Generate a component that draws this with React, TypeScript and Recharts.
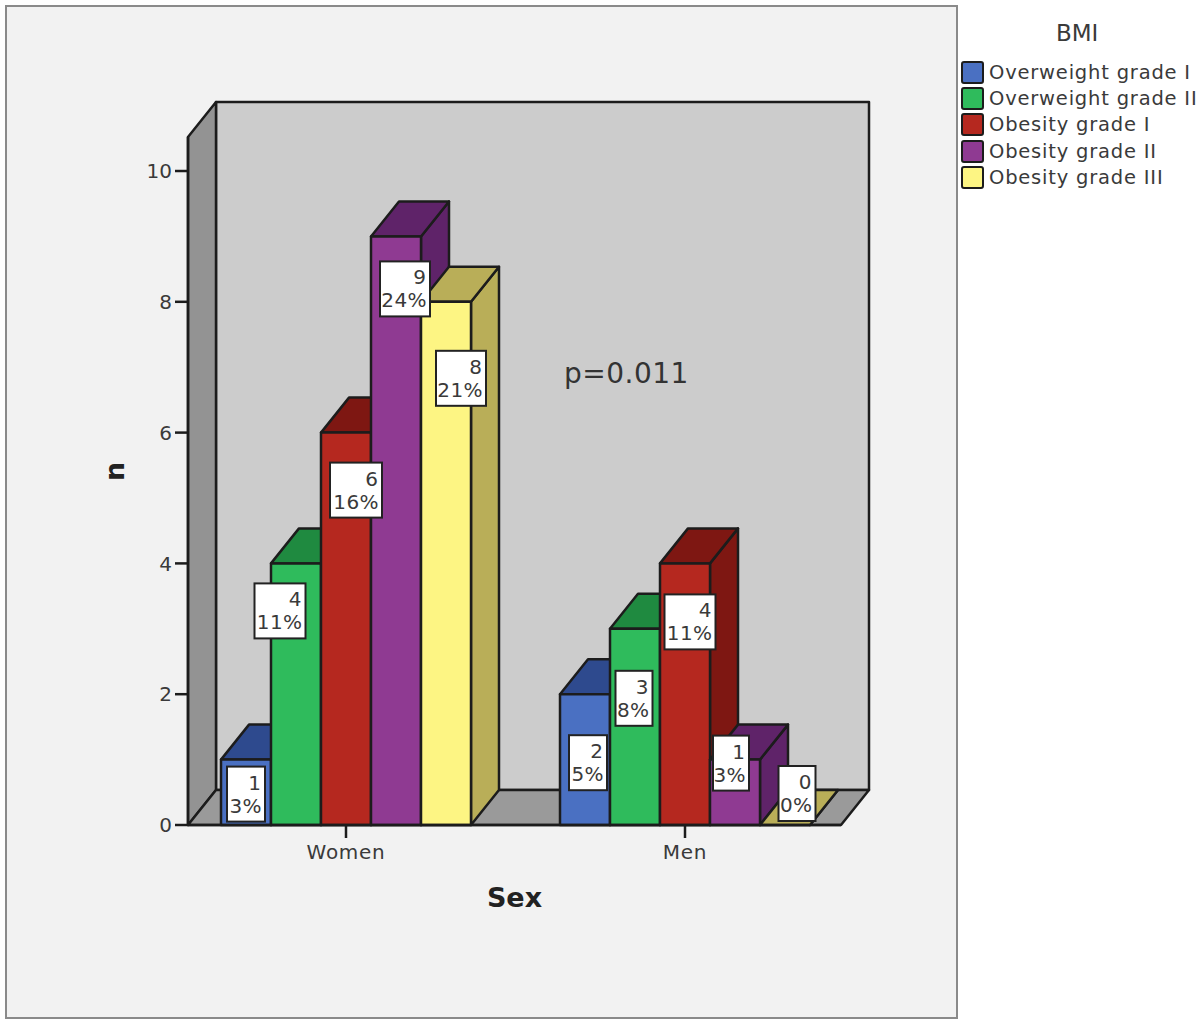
import React from "react";
import {
  BarChart,
  Bar,
  XAxis,
  YAxis,
  Legend,
  ReferenceDot,
  usePlotArea,
} from "recharts";

const sexes = ["Women", "Men"];
const bmiGroups = [
  "Overweight grade I",
  "Overweight grade II",
  "Obesity grade I",
  "Obesity grade II",
  "Obesity grade III",
];
const overweight1 = [1, 2];
const overweight2 = [4, 3];
const obesity1 = [6, 4];
const obesity2 = [9, 1];
const obesity3 = [8, 0];
const percent1 = ["3%", "5%"];
const percent2 = ["11%", "8%"];
const percent3 = ["16%", "11%"];
const percent4 = ["24%", "3%"];
const percent5 = ["21%", "0%"];
const yTicks = [0, 2, 4, 6, 8, 10];

const seriesValues = [overweight1, overweight2, obesity1, obesity2, obesity3];
const seriesPercents = [percent1, percent2, percent3, percent4, percent5];
const seriesKeys = ["g1", "g2", "g3", "g4", "g5"];

const chartData = sexes.map((sex, i) => ({
  sex,
  g1: overweight1[i],
  g2: overweight2[i],
  g3: obesity1[i],
  g4: obesity2[i],
  g5: obesity3[i],
}));

const frontColors = ["#4a70c2", "#2fbb5c", "#b5281f", "#8f3a92", "#fdf583"];
const shadeColors = ["#2e4a8e", "#1f8a40", "#7e1712", "#5f2369", "#b9ae58"];

// label boxes are hand placed in the original, so each has its own nudge
// [dx from category centre, dy from bar top to box top, box width]
const labelNudges = [
  [[-100, 7, 38], [-97, 41, 38]],
  [[-66, 20, 51], [-51, 42, 37]],
  [[10, 30, 52], [5, 31, 51]],
  [[59, 25, 50], [46, -24, 36]],
  [[115, 49, 50], [112, -59, 37]],
];

const DEPTH_X = 28;
const DEPTH_Y = 35;
const LINE = "#1c1c1c";
const FONT = "'DejaVu Sans', sans-serif";

const poly = (pts: number[][]) => pts.map((p) => p.join(",")).join(" ");

function Walls() {
  const plot = usePlotArea();
  if (!plot) return null;
  const { x, y, width, height } = plot;
  const r = x + width;
  const b = y + height;
  return (
    <g stroke={LINE} strokeWidth={2.5} strokeLinejoin="round">
      <polygon
        points={poly([[x + DEPTH_X, y - DEPTH_Y], [r + DEPTH_X, y - DEPTH_Y], [r + DEPTH_X, b - DEPTH_Y], [x + DEPTH_X, b - DEPTH_Y]])}
        fill="#cccccc"
      />
      <polygon
        points={poly([[x, y], [x + DEPTH_X, y - DEPTH_Y], [x + DEPTH_X, b - DEPTH_Y], [x, b]])}
        fill="#939393"
      />
      <polygon
        points={poly([[x, b], [x + DEPTH_X, b - DEPTH_Y], [r + DEPTH_X, b - DEPTH_Y], [r, b]])}
        fill="#9a9a9a"
      />
    </g>
  );
}

function Bar3D(props: any) {
  const { x, y, width: w, height: h, fill, shade } = props;
  return (
    <g stroke={LINE} strokeWidth={2.5} strokeLinejoin="round">
      <polygon
        points={poly([[x + w, y], [x + w + DEPTH_X, y - DEPTH_Y], [x + w + DEPTH_X, y + h - DEPTH_Y], [x + w, y + h]])}
        fill={shade}
      />
      <polygon
        points={poly([[x, y], [x + DEPTH_X, y - DEPTH_Y], [x + w + DEPTH_X, y - DEPTH_Y], [x + w, y]])}
        fill={shade}
      />
      <rect x={x} y={y} width={w} height={h} fill={fill} />
    </g>
  );
}

function ValueBox(props: any) {
  const { cx, cy, nudge, value, percent } = props;
  const [dx, dy, w] = nudge;
  const left = cx + dx - w / 2;
  const top = cy + dy;
  return (
    <g>
      <rect x={left} y={top} width={w} height={55} fill="#ffffff" stroke="#222222" strokeWidth={2} />
      <text x={left + w - 4} y={top + 23} textAnchor="end" fontFamily={FONT} fontSize={20} fill="#3a3a3a">
        {value}
      </text>
      <text x={left + w - 3} y={top + 46} textAnchor="end" fontFamily={FONT} fontSize={20} letterSpacing={0.4} fill="#3a3a3a">
        {percent}
      </text>
    </g>
  );
}

function BmiLegend({ payload }: any) {
  return (
    <div style={{ fontFamily: FONT, color: "#3a3a3a" }}>
      <div style={{ position: "absolute", left: 1056, top: 19, fontSize: 23, lineHeight: "28px" }}>BMI</div>
      {(payload || []).map((item: any, i: number) => (
        <div
          key={item.value}
          style={{
            position: "absolute",
            left: 961,
            top: 61 + i * 26.2,
            display: "flex",
            alignItems: "center",
            whiteSpace: "nowrap",
          }}
        >
          <span
            style={{
              width: 19,
              height: 19,
              background: item.color,
              border: `2px solid ${LINE}`,
              borderRadius: 3,
              marginRight: 5,
            }}
          />
          <span style={{ fontSize: 19.5, lineHeight: "23px", letterSpacing: 0.8 }}>{item.value}</span>
        </div>
      ))}
    </div>
  );
}

export default function App() {
  return (
    <div style={{ position: "absolute", left: 0, top: 0, width: 1200, height: 1022, background: "#ffffff", overflow: "hidden" }}>
      <div
        style={{
          position: "absolute",
          left: 5,
          top: 5,
          width: 949,
          height: 1010,
          background: "#f2f2f2",
          border: "2px solid #8a8a8a",
        }}
      />
      <div style={{ position: "absolute", left: 0, top: 0 }}>
        <BarChart
          width={1200}
          height={1022}
          data={chartData}
          margin={{ top: 137, right: 359, bottom: 97, left: 108 }}
          barCategoryGap={44.5}
          barGap={0}
        >
          <Walls />
          <XAxis
            dataKey="sex"
            height={100}
            padding={{ left: -11.5, right: -13.5 }}
            stroke={LINE}
            strokeWidth={2.5}
            tickSize={13}
            tickMargin={7}
            tick={{ fontFamily: FONT, fontSize: 20, fill: "#3a3a3a", letterSpacing: 0.7 }}
            label={{
              value: "Sex",
              position: "insideBottom",
              offset: 18,
              style: { fontFamily: FONT, fontSize: 27, fontWeight: "bold", fill: "#222222" },
            }}
          />
          <YAxis
            width={80}
            domain={[0, 10.52]}
            ticks={yTicks}
            stroke={LINE}
            strokeWidth={2.5}
            tickSize={13}
            tickMargin={3}
            tick={{ fontFamily: FONT, fontSize: 20, fill: "#3a3a3a" }}
            label={{
              value: "n",
              angle: -90,
              position: "insideLeft",
              offset: 6,
              style: { fontFamily: FONT, fontSize: 27, fontWeight: "bold", fill: "#222222" },
            }}
          />
          <Legend
            layout="vertical"
            align="center"
            verticalAlign="top"
            itemSorter={null}
            wrapperStyle={{ left: 0, top: 0, width: 1200, height: 0, margin: 0 }}
            content={<BmiLegend />}
          />
          {seriesKeys.map((key, i) => (
            <Bar
              key={key}
              dataKey={key}
              name={bmiGroups[i]}
              fill={frontColors[i]}
              isAnimationActive={false}
              shape={(p: any) => <Bar3D {...p} shade={shadeColors[i]} />}
            />
          ))}
          {seriesKeys.map((key, i) =>
            sexes.map((sex, j) => (
              <ReferenceDot
                key={key + sex}
                x={sex}
                y={seriesValues[i][j]}
                shape={(p: any) => (
                  <ValueBox
                    {...p}
                    nudge={labelNudges[i][j]}
                    value={seriesValues[i][j]}
                    percent={seriesPercents[i][j]}
                  />
                )}
              />
            ))
          )}
          <text x={564} y={383} fontFamily={FONT} fontSize={28} letterSpacing={0.5} fill="#333333">
            p=0.011
          </text>
        </BarChart>
      </div>
    </div>
  );
}
